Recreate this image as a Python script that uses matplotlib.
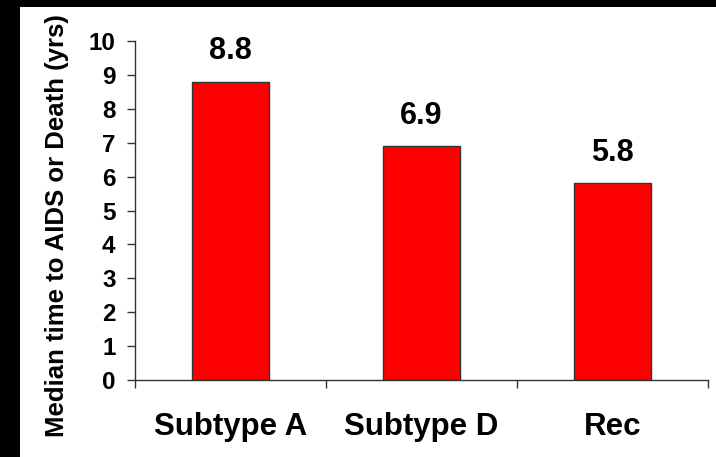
import matplotlib.pyplot as plt
from matplotlib.patches import Rectangle

# median years to AIDS or death, by HIV-1 subtype
subtypes = ["Subtype A", "Subtype D", "Rec"]
median_years = [8.8, 6.9, 5.8]
y_ticks = list(range(0, 11))

plt.rcParams['font.family'] = ['Liberation Sans', 'DejaVu Sans']
plt.rcParams['font.weight'] = 'bold'


def main():
    W, H = 716, 457
    fig = plt.figure(figsize=(W / 100, H / 100), dpi=100)

    # black frame strips on the left and top
    fig.patches.append(Rectangle((0, 0), 20 / W, 1, transform=fig.transFigure,
                                 facecolor='black', edgecolor='none', zorder=-1))
    fig.patches.append(Rectangle((0, 1 - 7 / H), 1, 7 / H, transform=fig.transFigure,
                                 facecolor='black', edgecolor='none', zorder=-1))

    ax = fig.add_axes([135 / W, (H - 380) / H, (708 - 135) / W, (380 - 41) / H])

    index = range(len(subtypes))
    bars = ax.bar(index, median_years, 0.4, color='#ff0000', edgecolor='#333333',
                  linewidth=1.0, zorder=2)

    for rect, val in zip(bars, median_years):
        ax.annotate(f"{val:.1f}", (rect.get_x() + rect.get_width() / 2, val),
                    xytext=(0, 11), textcoords='offset points',
                    ha='center', va='bottom', fontsize=22, fontweight='bold')

    ax.set_xlim(-0.5, len(subtypes) - 0.5)
    ax.set_ylim(0, 10)
    ax.set_yticks(y_ticks)
    ax.set_yticklabels([str(t) for t in y_ticks], fontsize=17.5, fontweight='bold')

    # category boundaries get the tick marks, names sit between them
    ax.set_xticks([i - 0.5 for i in range(len(subtypes) + 1)])
    ax.set_xticklabels([])
    ax.set_xticks(list(index), minor=True)
    ax.set_xticklabels(subtypes, minor=True, fontsize=22.5, fontweight='bold')
    ax.tick_params(axis='x', which='minor', length=0, pad=23)
    ax.tick_params(axis='x', which='major', direction='out', length=6, width=1,
                   color='#333333')
    ax.tick_params(axis='y', direction='out', length=6, width=1, color='#333333', pad=8)

    for side in ['top', 'right']:
        ax.spines[side].set_visible(False)
    for side in ['left', 'bottom']:
        ax.spines[side].set_color('#333333')
        ax.spines[side].set_linewidth(1)

    fig.text(57 / W, 1 - 226 / H, "Median time to AIDS or Death (yrs)",
             rotation=90, ha='center', va='center', fontsize=18.5, fontweight='bold')

    fig.savefig("out.png", dpi=100, facecolor='white')


if __name__ == "__main__":
    main()
